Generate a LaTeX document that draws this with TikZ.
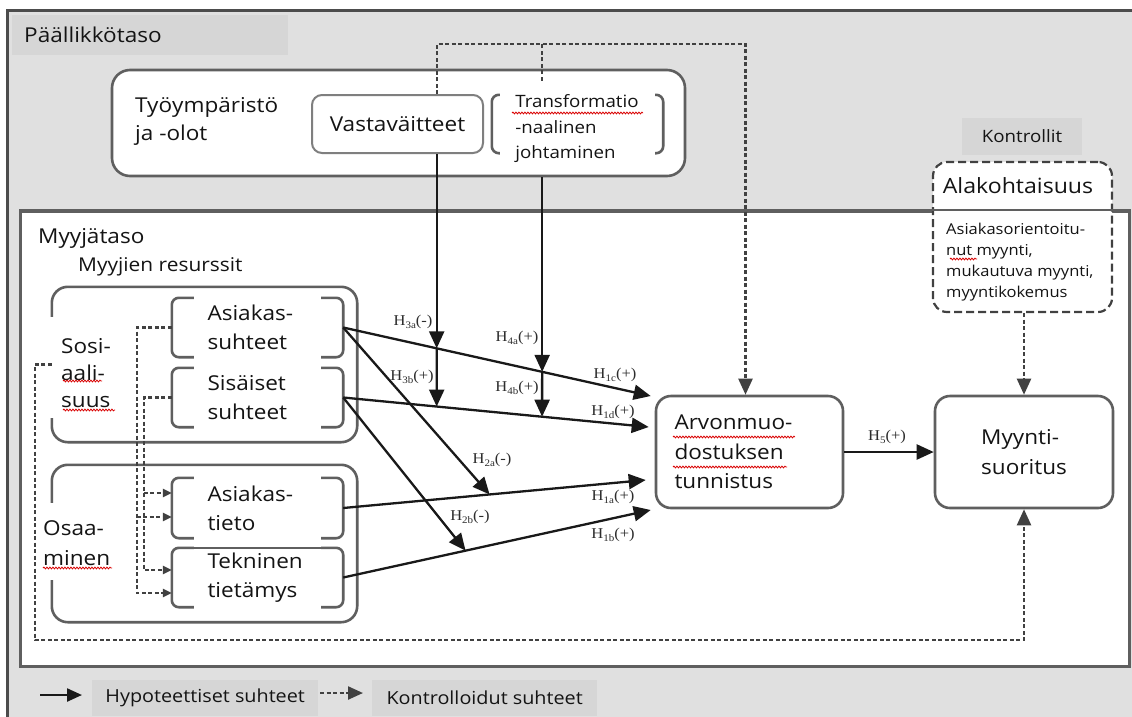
\documentclass[tikz,border=0pt]{standalone}
\usepackage{fontspec}
\setmainfont{Open Sans}[FakeStretch=1.1]
\newfontfamily\hfont{Liberation Serif}[FakeStretch=1.1]
\usetikzlibrary{arrows.meta,calc,decorations.pathmorphing}
\definecolor{bggray}{RGB}{224,224,224}
\definecolor{lblgray}{RGB}{214,214,214}
\definecolor{boxline}{RGB}{95,95,95}
\definecolor{txt}{RGB}{20,20,20}
\definecolor{ctrlc}{RGB}{65,65,65}
\definecolor{hlab}{RGB}{45,45,45}
\newcommand\fs[2]{\fontsize{#1}{#2}\selectfont}
\newcommand\hsub[1]{\raisebox{-3pt}{\fontsize{10}{11}\selectfont #1}}
\newcommand\brackets[2]{%
  \draw[brk] ([xshift=#2]#1.north west) -| (#1.south west) -- ([xshift=#2]#1.south west);
  \draw[brk] ([xshift=-#2]#1.north east) -| (#1.south east) -- ([xshift=-#2]#1.south east);}
\begin{document}
\begin{tikzpicture}[x=1pt,y=-1pt,
  every node/.style={text=txt, inner sep=0pt},
  body/.style={font=\fs{20.5}{29}},
  box/.style={draw=boxline, line width=2.6pt, fill=white, rounded corners=16pt},
  brk/.style={draw=boxline, line width=2.6pt, rounded corners=7pt},
  grp/.style={draw=boxline, line width=2.6pt, rounded corners=16pt},
  inner/.style={body, minimum width=171pt, minimum height=59pt, text width=100pt, align=left},
  hyp/.style={draw=black!90, line width=2.3pt, -{Triangle[length=17pt,width=15pt]}},
  ctrl/.style={draw=ctrlc, line width=2.3pt, dash pattern=on 4pt off 2.5pt},
  ctrlarr/.style={ctrl, -{Triangle[length=16pt,width=14pt]}},
  smarr/.style={ctrl, -{Triangle[length=9pt,width=8pt]}},
  hl/.style={font=\hfont\fs{15}{17}, text=hlab},
  lbl/.style={fill=lblgray},
  squig/.style={draw=red!85!black, line width=0.8pt, decorate, decoration={snake, amplitude=0.9pt, segment length=3pt}},
]
\fill[white] (0,0) rectangle (1132,716);
\useasboundingbox (0,0) rectangle (1132,716);
% outer frame
\draw[fill=bggray, draw=black!70, line width=3pt] (7,10) rectangle (1145,730);
\node[lbl, anchor=west, minimum height=40pt, text width=252pt, inner xsep=12pt, align=left, font=\fs{20.5}{25}] (plbl) at (12,35) {Päällikkötaso};

% manager level
\node[box, rounded corners=18pt, minimum width=573pt, minimum height=106pt] (ty) at (398.5,123) {};
\node[body, anchor=west, align=left, font=\fs{20.5}{28}] (tyt) at (135,121) {Työympäristö\\ja -olot};
\node[draw=boxline!80, line width=2pt, rounded corners=10pt, minimum width=171pt, minimum height=58pt, body] (vas) at (397.5,124) {Vastaväitteet};
\node[minimum width=171pt, minimum height=58pt] (tr) at (577.5,124) {};
\brackets{tr}{8pt}
\node[font=\fs{17}{25.5}, align=left] (trt) at (577,129) {Transformatio\\-naalinen\\johtaminen};

% seller level
\node[draw=boxline, line width=2.6pt, fill=white, minimum width=1109pt, minimum height=455pt, anchor=north west] (myy) at (19,210) {};
\node[body, anchor=west] (myyt) at (38,238) {Myyjätaso};
\node[font=\fs{19}{23}, anchor=west] (rest) at (78,267) {Myyjien resurssit};

% controls
\node[lbl, font=\fs{17}{20}, minimum width=120pt, minimum height=37pt] (kon) at (1022,136.5) {Kontrollit};
\node[draw=ctrlc, line width=2.2pt, dash pattern=on 8pt off 4pt, fill=white, rounded corners=14pt, minimum width=179pt, minimum height=150pt] (alk) at (1022.5,237) {};
\draw[draw=boxline, line width=2.6pt] (myy.north west) -- (myy.north east);
\node[font=\fs{21}{25}] (alkt) at (1018,186) {Alakohtaisuus};
\node[font=\fs{15}{21}, anchor=west, align=left] (alkd) at (946,262) {Asiakasorientoitu-\\nut myynti,\\mukautuva myynti,\\myyntikokemus};

% groups
\node[minimum width=305pt, minimum height=155pt] (sosg) at (204.5,364.5) {};
\draw[grp] ([yshift=-30pt]sosg.north west) -- (sosg.north west) -- (sosg.north east) -- (sosg.south east) -- (sosg.south west) -- ([yshift=24pt]sosg.south west);
\node[minimum width=305pt, minimum height=157pt] (osg) at (204.5,543.5) {};
\draw[grp] ([yshift=-38pt]osg.north west) -- (osg.north west) -- (osg.north east) -- (osg.south east) -- (osg.south west) -- ([yshift=42pt]osg.south west);
\node[anchor=west, align=left, font=\fs{20.5}{27}] (sost) at (61,373) {Sosi-\\aali-\\suus};
\node[anchor=west, align=left, font=\fs{20.5}{30}] (ost) at (43,543) {Osaa-\\minen};

% resources
\node[inner] (as) at (257.5,327.5) {Asiakas-\\suhteet};
\node[inner] (si) at (257.5,397.5) {Sisäiset\\suhteet};
\node[inner, minimum height=60pt] (at) at (257.5,508) {Asiakas-\\tieto};
\node[inner] (tt) at (257.5,577.5) {Tekninen\\tietämys};
\brackets{as}{22pt}
\brackets{si}{22pt}
\brackets{at}{22pt}
\brackets{tt}{22pt}
\draw[brk] ([xshift=10pt]tt.north west) -- ([xshift=-10pt]tt.north east);

% outcome boxes
\node[box, rounded corners=15pt, minimum width=187pt, minimum height=112pt, body, text width=150pt, align=left, font=\fs{20.5}{29.5}] (arv) at (749.5,452) {Arvonmuo-\\dostuksen\\tunnistus};
\node[box, rounded corners=15pt, minimum width=178pt, minimum height=112pt, body, align=left, font=\fs{20.5}{30}] (my) at (1024,452) {Myynti-\\suoritus};

% hypothesised paths
\coordinate (t1c) at ($(arv.west)+(-4,-56)$);
\coordinate (t1d) at ($(arv.west)+(-6,-25)$);
\coordinate (t1a) at ($(arv.west)+(-9,28)$);
\coordinate (t1b) at ($(arv.west)+(-4,58)$);
\draw[hyp] (as.east) -- (t1c);
\draw[hyp] (si.east) -- (t1d);
\draw[hyp] (at.east) -- (t1a);
\draw[hyp] (tt.east) -- (t1b);
\coordinate (m3a) at ($(as.east)!0.304!(t1c)$);
\coordinate (m4a) at ($(as.east)!0.647!(t1c)$);
\coordinate (m3b) at ($(si.east)!0.306!(t1d)$);
\coordinate (m4b) at ($(si.east)!0.651!(t1d)$);
\coordinate (m2a) at ($(at.east)!0.484!(t1a)$);
\coordinate (m2b) at ($(tt.east)!0.398!(t1b)$);
\draw[hyp] (as.east) -- (m2a);
\draw[hyp] (si.east) -- (m2b);
\draw[hyp] (vas.south -| m3a) -- (m3a);
\draw[hyp] (m3a) -- (m3b);
\draw[hyp] (ty.south -| m4a) -- (m4a);
\draw[hyp] (m4a) -- (m4b);
\draw[hyp] (arv.east) -- (my.west);

% control paths
\coordinate (tl) at ($(vas.north -| m3a)+(0,-50)$);
\draw[ctrlarr] (vas.north -| m3a) -- (tl) -| ([xshift=-4pt]arv.north);
\draw[ctrl] ($(ty.north -| m4a)+(0,12)$) -- (tl -| m4a);
\draw[ctrlarr] (alk.south -| my.north) -- (my.north);
\coordinate (lowL) at ($(sosg.west)+(-17,275.5)$);
\draw[ctrlarr] (sosg.west) -| (lowL) -| (my.south);
\coordinate (v1) at ($(as.west)+(-35,0)$);
\coordinate (v2) at ($(as.west)+(-28,0)$);
\coordinate (atA) at ($(at.west)+(0,-15)$);
\coordinate (atB) at ($(at.west)+(0,9)$);
\coordinate (ttA) at ($(tt.west)+(0,-7.5)$);
\coordinate (ttB) at ($(tt.west)+(0,15.5)$);
\draw[smarr] (as.west) -| (v1 |- ttB) -- (ttB);
\draw[smarr] (v1 |- atB) -- (atB);
\draw[smarr] (si.west) -| (v2 |- ttA) -- (ttA);
\draw[smarr] (v2 |- atA) -- (atA);

% hypothesis labels
\node[hl] (h3a) at (413,322) {H\hsub{3a}(-)};
\node[hl] (h3b) at (412,377) {H\hsub{3b}(+)};
\node[hl] (h4a) at (517,338) {H\hsub{4a}(+)};
\node[hl] (h4b) at (517,388) {H\hsub{4b}(+)};
\node[hl] (h1c) at (615,375) {H\hsub{1c}(+)};
\node[hl] (h1d) at (613,412) {H\hsub{1d}(+)};
\node[hl] (h2a) at (492,460) {H\hsub{2a}(-)};
\node[hl] (h2b) at (470,517) {H\hsub{2b}(-)};
\node[hl] (h1a) at (613,497) {H\hsub{1a}(+)};
\node[hl] (h1b) at (613,535) {H\hsub{1b}(+)};
\node[hl] (h5) at (887,437) {H\hsub{5}(+)};

% spelling squiggles
\draw[squig] (512,113) -- (643,113);
\draw[squig] (63,381) -- (102,381);
\draw[squig] (63,410) -- (115,410);
\draw[squig] (43,568) -- (112,568);
\draw[squig] (950,259) -- (977,259);
\draw[squig] (673,437) -- (795,437);
\draw[squig] (673,467) -- (787,467);

% legend
\node[lbl, font=\fs{18}{22}, minimum width=226pt, minimum height=36pt, anchor=north west] (lh) at (92,680) {Hypoteettiset suhteet};
\node[lbl, font=\fs{18}{22}, minimum width=225pt, minimum height=36pt, anchor=north west] (lk) at (372,680) {Kontrolloidut suhteet};
\coordinate (lg1a) at (40,695);
\coordinate (lg1b) at (82,695);
\coordinate (lg2a) at (320,693);
\coordinate (lg2b) at (363,693);
\draw[hyp, -{Triangle[length=15pt,width=13pt]}] (lg1a) -- (lg1b);
\draw[ctrl, -{Triangle[length=15pt,width=13pt]}] (lg2a) -- (lg2b);
\end{tikzpicture}
\end{document}
